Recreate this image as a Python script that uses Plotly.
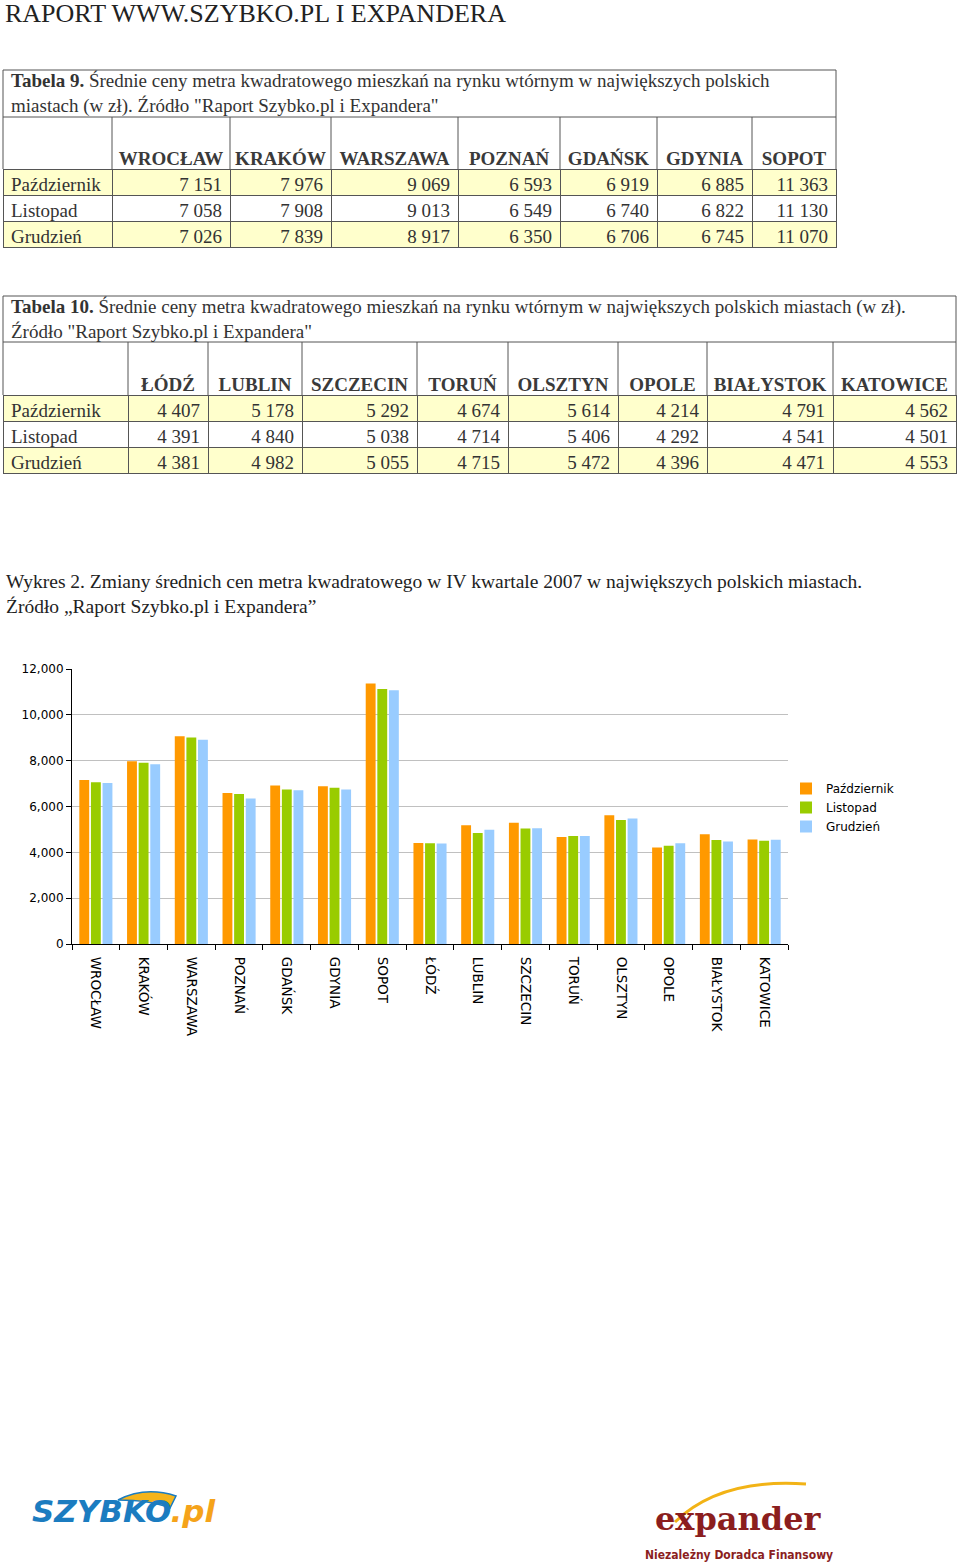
import plotly.graph_objects as go

W, H = 960, 1568

def px(x):
    return x / W

def py(y):
    return 1 - y / H

# ---------------- data ----------------
months = ["Październik", "Listopad", "Grudzień"]

cities_t9 = ["WROCŁAW", "KRAKÓW", "WARSZAWA", "POZNAŃ", "GDAŃSK", "GDYNIA", "SOPOT"]
oct_t9 = [7151, 7976, 9069, 6593, 6919, 6885, 11363]
nov_t9 = [7058, 7908, 9013, 6549, 6740, 6822, 11130]
dec_t9 = [7026, 7839, 8917, 6350, 6706, 6745, 11070]

cities_t10 = ["ŁÓDŹ", "LUBLIN", "SZCZECIN", "TORUŃ", "OLSZTYN", "OPOLE", "BIAŁYSTOK", "KATOWICE"]
oct_t10 = [4407, 5178, 5292, 4674, 5614, 4214, 4791, 4562]
nov_t10 = [4391, 4840, 5038, 4714, 5406, 4292, 4541, 4501]
dec_t10 = [4381, 4982, 5055, 4715, 5472, 4396, 4471, 4553]

y_ticks = [0, 2000, 4000, 6000, 8000, 10000, 12000]

# ---------------- styles ----------------
SERIF = "Liberation Serif, Times New Roman, serif"
SANS = "Verdana, DejaVu Sans, sans-serif"
TXT = "#333333"
LINE = "#555555"
YEL = "#FFFFCC"
COLORS = ["#FF9900", "#99CC00", "#99CCFF"]


def fmt(v):
    return f"{v:,}".replace(",", "\u00a0")


fig = go.Figure()
shapes = []
annotations = []


def add_table(cities, series, col_bounds, top, caption, cap_h, head_h, row_h):
    x0, x1 = col_bounds[0], col_bounds[-1]
    widths = [b - a for a, b in zip(col_bounds[:-1], col_bounds[1:])]
    # caption box (merged row)
    shapes.append(dict(type="rect", xref="paper", yref="paper",
                       x0=px(x0), x1=px(x1), y0=py(top + cap_h), y1=py(top),
                       line=dict(color=LINE, width=1), fillcolor="white"))
    annotations.append(dict(x=px(x0 + 6), y=py(top + cap_h / 2), text=caption,
                            xanchor="left", yanchor="middle", align="left",
                            font=dict(family=SERIF, size=19, color=TXT)))
    # tall header: column separators over the whole header height
    h_top, h_bot = top + cap_h, top + cap_h + head_h
    for b in col_bounds:
        shapes.append(dict(type="line", xref="paper", yref="paper",
                           x0=px(b), x1=px(b), y0=py(h_bot), y1=py(h_top),
                           line=dict(color=LINE, width=1)))
    cols = [months] + [[fmt(s[i]) for s in series] for i in range(len(cities))]
    nrow = len(months)
    fills = [[YEL if r % 2 == 0 else "white" for r in range(nrow)] for _ in cols]
    name_h = row_h
    t2 = h_bot - name_h
    fig.add_trace(go.Table(
        domain=dict(x=[px(x0), px(x1)], y=[py(t2 + name_h + nrow * row_h + 4), py(t2)]),
        columnwidth=widths,
        header=dict(values=[""] + cities, height=name_h,
                    align="center", fill_color="rgba(0,0,0,0)",
                    line=dict(color="rgba(0,0,0,0)", width=0),
                    font=dict(family=SERIF, size=19, color="#3a3a3a", weight="bold")),
        cells=dict(values=cols, height=row_h,
                   align=["left"] + ["right"] * len(cities),
                   fill_color=fills, line=dict(color=LINE, width=1),
                   font=dict(family=SERIF, size=19, color=TXT)),
    ))


cap9 = ("<b>Tabela 9.</b> Średnie ceny metra kwadratowego mieszkań na rynku wtórnym w największych polskich"
        "<br>miastach (w zł). Źródło \"Raport Szybko.pl i Expandera\"")
cap10 = ("<b>Tabela 10.</b> Średnie ceny metra kwadratowego mieszkań na rynku wtórnym w największych polskich miastach (w zł)."
         "<br>Źródło \"Raport Szybko.pl i Expandera\"")

add_table(cities_t9, [oct_t9, nov_t9, dec_t9],
          [3, 112, 230, 331, 458, 560, 657, 752, 836], 70, cap9, 47, 52, 26)
add_table(cities_t10, [oct_t10, nov_t10, dec_t10],
          [3, 128, 208, 302, 417, 508, 618, 707, 833, 956], 296, cap10, 46, 53, 26)

# ---------------- bar chart ----------------
chart_cats = cities_t9 + cities_t10
chart_series = [oct_t9 + oct_t10, nov_t9 + nov_t10, dec_t9 + dec_t10]
for name, vals, col in zip(months, chart_series, COLORS):
    fig.add_trace(go.Bar(x=chart_cats, y=vals, name=name, marker=dict(color=col, line=dict(width=0)),
                         xaxis="x", yaxis="y"))

fig.update_layout(
    width=W, height=H,
    margin=dict(l=0, r=0, t=0, b=0, pad=0, autoexpand=False),
    paper_bgcolor="white", plot_bgcolor="white",
    barmode="group", bargap=0.27, bargroupgap=0.15,
    xaxis=dict(domain=[px(72), px(788)], anchor="y", automargin=False,
               showline=True, linecolor="black", linewidth=1,
               ticks="outside", ticklen=5, tickcolor="black", tickson="boundaries",
               tickangle=90, tickfont=dict(family=SANS, size=13.5, color="black"),
               ticklabelstandoff=9, showgrid=False),
    yaxis=dict(domain=[py(944), py(669)], anchor="x", range=[0, 12000], automargin=False,
               tickvals=y_ticks, tickformat=",",
               showline=True, linecolor="black", linewidth=1,
               ticks="outside", ticklen=5, tickcolor="black",
               tickfont=dict(family=SANS, size=12, color="black"),
               showgrid=True, gridcolor="#C0C0C0", gridwidth=1, zeroline=False),
    legend=dict(x=px(786), y=py(774), xanchor="left", yanchor="top",
                font=dict(family=SANS, size=12, color="black"),
                bgcolor="rgba(0,0,0,0)", tracegroupgap=0, itemwidth=30),
    showlegend=True,
)

annotations += [
    dict(x=px(3), y=py(13), text="RAPORT WWW.SZYBKO.PL I EXPANDERA", xanchor="left", yanchor="middle",
         font=dict(family=SERIF, size=26, color="#222222")),
    dict(x=px(4), y=py(594), text=("Wykres 2. Zmiany średnich cen metra kwadratowego w IV kwartale 2007 w największych polskich miastach."
                                    "<br>Źródło „Raport Szybko.pl i Expandera”"),
         xanchor="left", yanchor="middle", align="left",
         font=dict(family=SERIF, size=19.5, color="#222222")),
    # logos (text renditions)
    dict(x=px(30), y=py(1511), text="<b><i>SZYBKO</i></b><span style='color:#F5A31A'><b><i>.pl</i></b></span>",
         xanchor="left", yanchor="middle", font=dict(family="DejaVu Sans", size=31, color="#1B7CC0")),
    dict(x=px(738), y=py(1519), text="<b>expander</b>", xanchor="center", yanchor="middle",
         font=dict(family="DejaVu Serif", size=32, color="#8B1E1E")),
    dict(x=px(739), y=py(1555), text="<b>Niezależny Doradca Finansowy</b>", xanchor="center", yanchor="middle",
         font=dict(family="DejaVu Sans Condensed, Liberation Sans Narrow, DejaVu Sans", size=12, color="#8B1E1E")),
]
for a in annotations:
    a.update(xref="paper", yref="paper", showarrow=False)
fig.update_layout(annotations=annotations)


def ppath(pts):
    s = ""
    for cmd, coords in pts:
        s += cmd + " " + " ".join(f"{px(x):.5f},{py(y):.5f}" for x, y in coords) + " "
    return s.strip()


shapes += [
    dict(type="path", xref="paper", yref="paper",
         path=ppath([("M", [(118, 1500)]), ("Q", [(145, 1486), (176, 1496)]), ("L", [(170, 1508)]),
                     ("Q", [(150, 1500), (118, 1500)]), ("Z", [])]),
         fillcolor="#F5B41A", line=dict(color="#1B7CC0", width=1.5)),
    dict(type="path", xref="paper", yref="paper",
         path=ppath([("M", [(675, 1522)]), ("Q", [(720, 1478), (806, 1484)])]),
         line=dict(color="#F2B316", width=3)),
]
fig.update_layout(shapes=shapes)

fig.write_html("out.html")
